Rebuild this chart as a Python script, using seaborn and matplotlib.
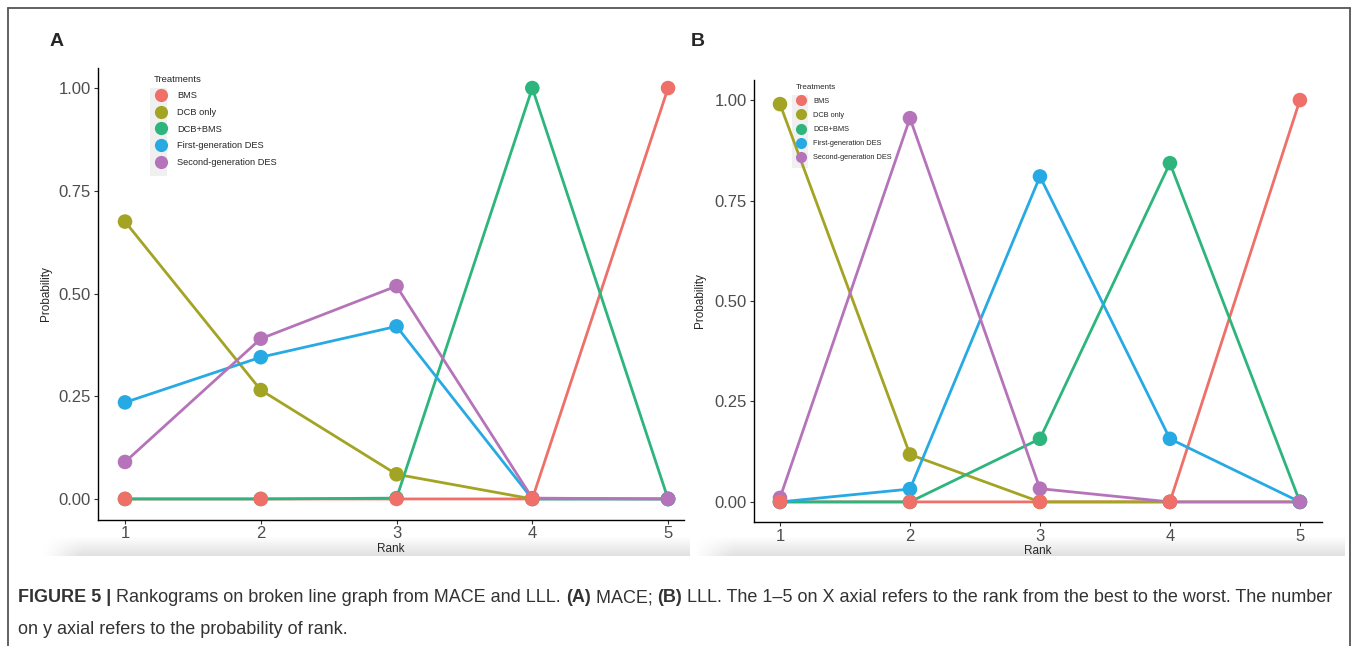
import numpy as np
import pandas as pd
import seaborn as sns
import matplotlib.pyplot as plt
from matplotlib.lines import Line2D
from matplotlib.patches import Rectangle

# Rank probabilities
ranks = [1, 2, 3, 4, 5]
treatments = ['BMS', 'DCB only', 'DCB+BMS', 'First-generation DES', 'Second-generation DES']
colors = ['#EE7068', '#A3A324', '#2DB57D', '#27AAE3', '#B574B9']

# (A) MACE
mace_bms = [0.0, 0.0, 0.0, 0.0, 1.0]
mace_dcb = [0.675, 0.265, 0.06, 0.0, 0.0]
mace_dcb_bms = [0.0, 0.0, 0.002, 1.0, 0.0]
mace_des1 = [0.235, 0.345, 0.42, 0.0, 0.0]
mace_des2 = [0.09, 0.39, 0.518, 0.002, 0.0]

# (B) LLL
lll_bms = [0.0, 0.0, 0.0, 0.0, 1.0]
lll_dcb = [0.99, 0.118, 0.0, 0.0, 0.0]
lll_dcb_bms = [0.0, 0.0, 0.157, 0.843, 0.0]
lll_des1 = [0.0, 0.032, 0.81, 0.157, 0.0]
lll_des2 = [0.01, 0.955, 0.033, 0.0, 0.0]


def long_df(series):
    rows = []
    for name, vals in zip(treatments, series):
        for r, v in zip(ranks, vals):
            rows.append({'Rank': r, 'Probability': v, 'Treatments': name})
    return pd.DataFrame(rows)


df_a = long_df([mace_bms, mace_dcb, mace_dcb_bms, mace_des1, mace_des2])
df_b = long_df([lll_bms, lll_dcb, lll_dcb_bms, lll_des1, lll_des2])

sns.set_style('white')
plt.rcParams['font.family'] = ['Liberation Sans', 'DejaVu Sans']

W, H = 1357, 646
fig = plt.figure(figsize=(W / 100, H / 100), dpi=100)
palette = dict(zip(treatments, colors))


def px(x0, y0, x1, y1):
    # pixel box (top-left origin) -> figure fraction rect
    return [x0 / W, 1 - y1 / H, (x1 - x0) / W, (y1 - y0) / H]


# faint grey shading under each panel
grad_v = np.linspace(0, 1, 40)[:, None]
for box in [(42, 537, 690, 556), (693, 537, 1345, 556)]:
    gax = fig.add_axes(px(*box), zorder=-1)
    gx = np.clip(np.linspace(0, 1, 200) / 0.06, 0, 1)[None, :]
    gax.imshow(1 - 0.12 * grad_v * gx, cmap='gray', vmin=0, vmax=1,
               aspect='auto', interpolation='bilinear')
    gax.axis('off')


def draw_panel(rect, df, xlim, leg_box, key_box, leg_fs, title_fs, msize, spacing,
               hlen, hpad, ylab_x):
    ax = fig.add_axes(rect)
    sns.lineplot(data=df, x='Rank', y='Probability', hue='Treatments',
                 hue_order=treatments, palette=palette, lw=2.0, ax=ax,
                 legend=False, zorder=2)
    # points: BMS drawn last so it sits on top at zero
    pts = pd.concat([df[df.Treatments != 'BMS'], df[df.Treatments == 'BMS']])
    sns.scatterplot(data=pts, x='Rank', y='Probability', hue='Treatments',
                    palette=palette, s=110, linewidth=0, ax=ax, legend=False,
                    zorder=3)
    ax.set_xlim(*xlim)
    ax.set_ylim(-0.05, 1.05)
    ax.set_xticks(ranks)
    ax.set_yticks([0, 0.25, 0.5, 0.75, 1.0])
    ax.set_yticklabels(['0.00', '0.25', '0.50', '0.75', '1.00'])
    ax.tick_params(length=3, width=0.8, color='#333333', labelcolor='#4d4d4d',
                   labelsize=12, pad=2, left=True, bottom=True)
    for s in ['top', 'right']:
        ax.spines[s].set_visible(False)
    for s in ['left', 'bottom']:
        ax.spines[s].set_color('black')
        ax.spines[s].set_linewidth(1.0)
    ax.set_xlabel('Rank', fontsize=8.5)
    ax.set_ylabel('Probability', fontsize=8.5)
    ax.xaxis.set_label_coords(0.5, -0.052)
    ax.yaxis.set_label_coords(ylab_x, 0.5)

    # legend key background
    kx0, ky0, kx1, ky1 = key_box
    ax.add_patch(Rectangle((kx0 / W, 1 - ky1 / H), (kx1 - kx0) / W, (ky1 - ky0) / H,
                           transform=fig.transFigure, facecolor='#f0f0f0',
                           edgecolor='none', zorder=1, clip_on=False))
    handles = [Line2D([], [], marker='o', ls='none', color=c, markersize=msize,
                      markeredgewidth=0) for c in colors]
    leg = ax.legend(handles, treatments, title='Treatments', loc='upper left',
                    bbox_to_anchor=(leg_box[0] / W, 1 - leg_box[1] / H),
                    bbox_transform=fig.transFigure, frameon=False,
                    fontsize=leg_fs, title_fontsize=title_fs, borderpad=0,
                    labelspacing=spacing, handlelength=hlen, handletextpad=hpad,
                    alignment='left')
    leg.set_zorder(5)
    return ax


draw_panel([97.85 / W, 1 - 519.5 / H, 586.5 / W, 452 / H], df_a, (0.8, 5.12),
           (149, 70), (150, 88, 167, 176), 6.7, 6.8, 9.5, 0.82, 1.6, 0.9, -0.078)
draw_panel([754 / W, 1 - 522 / H, 568 / W, 442 / H], df_b, (0.8, 5.17),
           (792, 80), (792, 95, 808, 168), 5.3, 5.8, 8.0, 0.95, 1.4, 0.95, -0.085)

fig.text(57 / W, 1 - 42 / H, 'A', fontsize=14, fontweight='bold', ha='center', va='center')
fig.text(698 / W, 1 - 42 / H, 'B', fontsize=14, fontweight='bold', ha='center', va='center')

# frame round the figure
for xs, ys in [([8, 8], [8, 660]), ([8, 1350], [8, 8]), ([1350, 1350], [8, 660])]:
    fig.add_artist(Line2D([x / W for x in xs], [1 - y / H for y in ys],
                          color='#555555', lw=1.3, transform=fig.transFigure))

# caption with bold pieces
renderer = fig.canvas.get_renderer()
cap_fs = 13
cap_col = '#333333'
line1 = [('FIGURE 5 | ', 'bold'),
         ('Rankograms on broken line graph from MACE and LLL. ', 'normal'),
         ('(A)', 'bold'), (' MACE; ', 'normal'), ('(B)', 'bold'),
         (' LLL. The 1\u20135 on X axial refers to the rank from the best to the worst. The number', 'normal')]
x = 18 / W
for txt, wt in line1:
    t = fig.text(x, 1 - 598 / H, txt, fontsize=cap_fs, fontweight=wt,
                 color=cap_col, va='center', ha='left')
    bb = t.get_window_extent(renderer)
    x = bb.x1 / W
fig.text(18 / W, 1 - 630 / H, 'on y axial refers to the probability of rank.',
         fontsize=cap_fs, color=cap_col, va='center', ha='left')

fig.savefig('out.png', dpi=100)
